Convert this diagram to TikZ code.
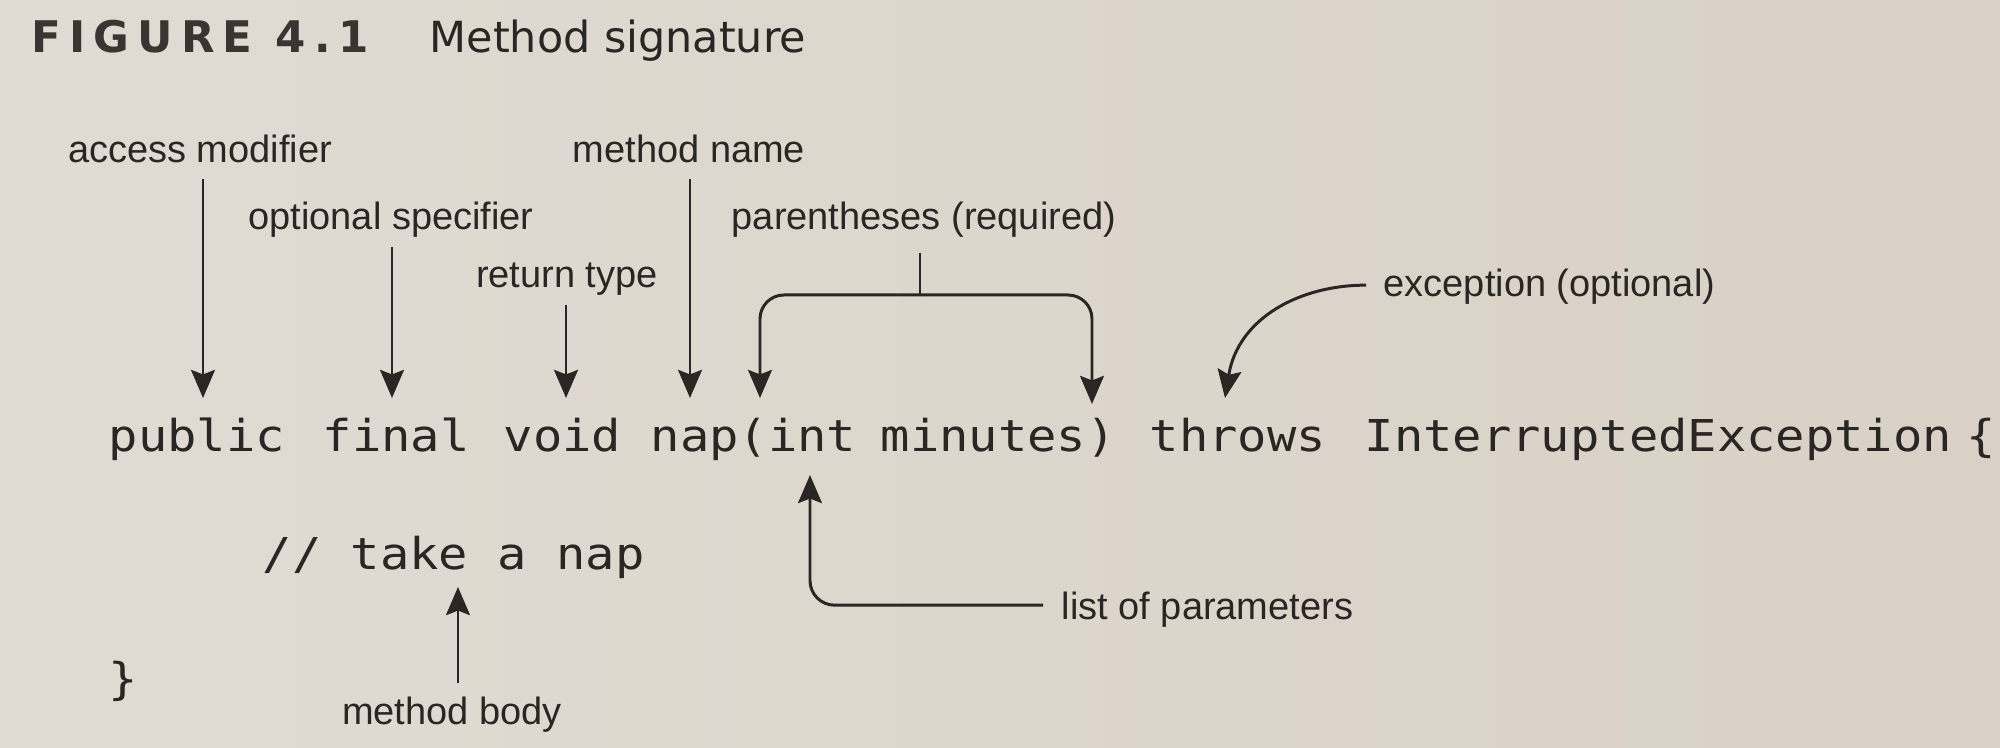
\documentclass[tikz,border=0pt]{standalone}
\usepackage{fontspec}
\usepackage{graphicx}
\setmainfont{Liberation Sans}
\newfontfamily\codefont{DejaVu Sans Mono}
\newfontfamily\titlefont{DejaVu Sans}
\usetikzlibrary{arrows.meta}
\definecolor{ink}{HTML}{2A2624}
\definecolor{titleink}{HTML}{3A3532}
\definecolor{paperL}{HTML}{E1DBD4}
\definecolor{paperM}{HTML}{E8E4E0}
\definecolor{paperR}{HTML}{D9D1C5}
\newcommand{\myls}{\kern2.3pt}
\newcommand{\codetxt}[1]{\scalebox{1}[0.9]{\codefont\fontsize{13.88pt}{16pt}\selectfont #1}}
\begin{document}
\begin{tikzpicture}[x=0.1mm,y=-0.1mm,
  lab/.style={inner sep=0pt, text=ink, font=\fontsize{10.81pt}{13pt}\selectfont},
  code/.style={inner sep=0pt, text=ink, anchor=base west},
  arr/.style={draw=ink, line width=0.85pt, -{Stealth[length=8pt,width=6.8pt,inset=1.3pt]}},
  conn/.style={draw=ink, line width=0.85pt}]
\useasboundingbox (0,0) rectangle (2000,748);
\shade[left color=paperL, middle color=paperM, right color=paperR] (0,0) rectangle (2000,748);

% title
\node[inner sep=0pt, anchor=base west, text=titleink] (fig) at (31,53)
  {\titlefont\bfseries\fontsize{12.4pt}{14pt}\selectfont F\myls I\myls G\myls U\myls R\myls E\myls\ 4\myls .\myls 1};
\node[inner sep=0pt, anchor=base west, text=ink] (cap) at (429,53)
  {\titlefont\fontsize{12.2pt}{14pt}\selectfont Method signature};

% code: method signature, word by word
\node[code] (wpublic) at (108,452) {\codetxt{public}};
\node[code] (wfinal) at (322,452) {\codetxt{final}};
\node[code] (wvoid) at (503,452) {\codetxt{void}};
\node[code] (wnap) at (650,452) {\codetxt{nap(int}};
\node[code] (wmin) at (880,452) {\codetxt{minutes)}};
\node[code] (wthrows) at (1149,452) {\codetxt{throws}};
\node[code] (wexc) at (1364,452) {\codetxt{InterruptedException}};
\node[code] (wopen) at (1966,452) {\codetxt{\{}};
\node[code] (cmt) at (262,570) {\codetxt{// take a nap}};
\node[code] (close) at (108,695) {\codetxt{\}}};

% labels
\node[lab, anchor=base] (acc) at (200,163) {access modifier};
\node[lab, anchor=base] (mname) at (689,163) {method name};
\node[lab, anchor=base] (opt) at (391,230) {optional specifier};
\node[lab, anchor=base] (par) at (924,230) {parentheses (required)};
\node[lab, anchor=base] (ret) at (567,288) {return type};
\node[lab, anchor=base west] (exc) at (1383,297) {exception (optional)};
\node[lab, anchor=base west] (lst) at (1061,620) {list of parameters};
\node[lab, anchor=base] (body) at (452,725) {method body};

% targets
\coordinate (tA) at (203,398);
\coordinate (tO) at (392,398);
\coordinate (tR) at (566,398);
\coordinate (tM) at (690,398);
\coordinate (pj) at (920,295);
\coordinate (tPL) at (760,398);
\coordinate (tPR) at (1092,404);
\coordinate (tE) at (1225,398);
\coordinate (tL) at (810,475);
\coordinate (tB) at (458,587);

% connectors
\draw[arr] (tA |- acc.south) ++(0,15) -- (tA);
\draw[arr] (tO |- opt.south) ++(0,8) -- (tO);
\draw[arr] (tR |- ret.south) ++(0,8) -- (tR);
\draw[arr] (tM |- mname.south) ++(0,15) -- (tM);
\draw[conn] (pj |- par.south) ++(0,14) -- (pj);
\draw[arr, rounded corners=6.8pt] (pj) -| (tPL);
\draw[arr, rounded corners=6.8pt] (pj) -| (tPR);
\draw[arr] (exc.west) ++(-17,-2) .. controls (1300,285) and (1238,318) .. (tE);
\draw[arr, rounded corners=7pt] (lst.west) ++(-18,-5) -| (tL);
\draw[arr] (tB |- body.north) ++(0,-14) -- (tB);
\end{tikzpicture}
\end{document}
